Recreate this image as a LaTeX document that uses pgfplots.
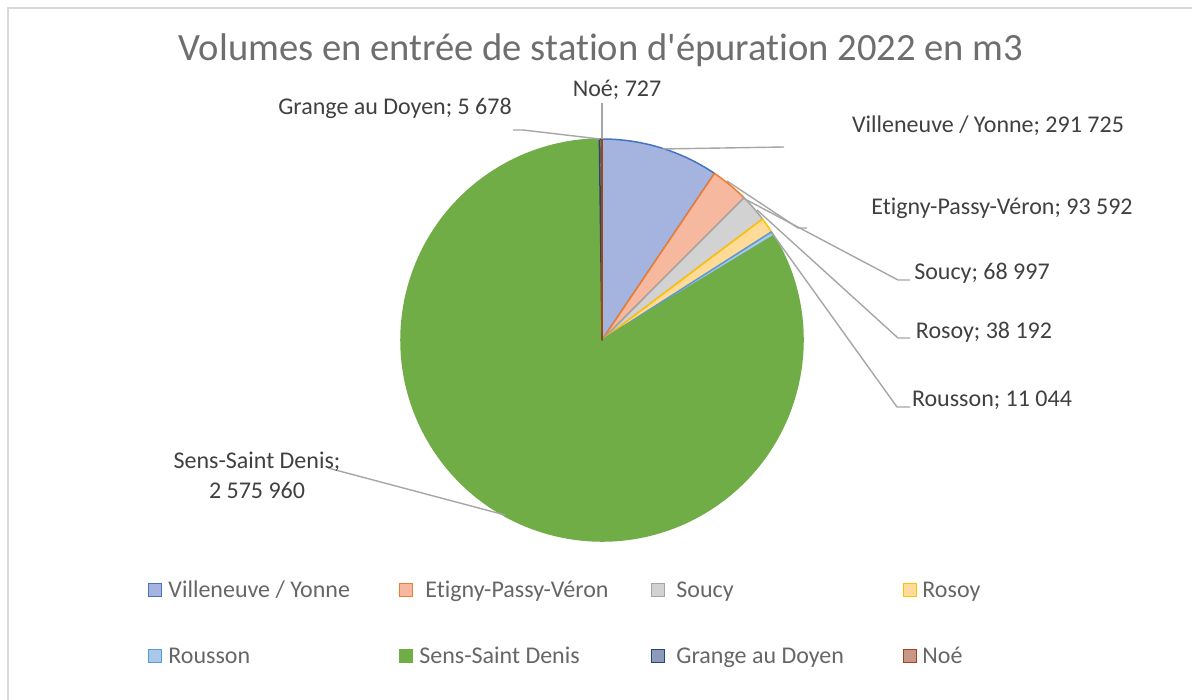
\documentclass[border=0pt]{standalone}
\usepackage{pgfplots}
\pgfplotsset{compat=1.18}
\usepackage{pgfplotstable}
\usepackage{fontspec}
\setmainfont{Carlito}[Ligatures=ResetAll, RawFeature={-liga;-clig;-dlig;-calt}]
\newcommand\tI{t\kern0pt i}

\definecolor{pfill0}{HTML}{A5B4DE}\definecolor{pline0}{HTML}{4472C4}
\definecolor{pfill1}{HTML}{F6B9A0}\definecolor{pline1}{HTML}{ED7D31}
\definecolor{pfill2}{HTML}{D2D2D2}\definecolor{pline2}{HTML}{A5A5A5}
\definecolor{pfill3}{HTML}{FFDB9A}\definecolor{pline3}{HTML}{FFC000}
\definecolor{pfill4}{HTML}{A8C7EA}\definecolor{pline4}{HTML}{5B9BD5}
\definecolor{pfill5}{HTML}{70AD47}\definecolor{pline5}{HTML}{70AD47}
\definecolor{pfill6}{HTML}{8E99BC}\definecolor{pline6}{HTML}{264478}
\definecolor{pfill7}{HTML}{C9968A}\definecolor{pline7}{HTML}{9E480E}
\definecolor{titlec}{HTML}{6E6E6E}
\definecolor{labc}{HTML}{404040}
\definecolor{legc}{HTML}{666666}
\definecolor{leadc}{HTML}{A6A6A6}
\definecolor{framec}{HTML}{D9D9D9}

\pgfplotstableread[col sep=comma]{
name,value
Villeneuve / Yonne,291725
Etigny-Passy-Véron,93592
Soucy,68997
Rosoy,38192
Rousson,11044
Sens-Saint Denis,2575960
Grange au Doyen,5678
Noé,727
}\piedata

% cumulative angles (clockwise from 12 o'clock)
\def\total{0}
\foreach \i in {0,...,7}{%
  \pgfplotstablegetelem{\i}{value}\of\piedata
  \xdef\total{\fpeval{\total+\pgfplotsretval}}%
}
\def\cum{0}
\foreach \i in {0,...,7}{%
  \pgfplotstablegetelem{\i}{value}\of\piedata
  \expandafter\xdef\csname sa\i\endcsname{\fpeval{90-\cum*360/\total}}%
  \xdef\cum{\fpeval{\cum+\pgfplotsretval}}%
  \expandafter\xdef\csname ea\i\endcsname{\fpeval{90-\cum*360/\total}}%
}

\begin{document}
\begin{tikzpicture}
\begin{axis}[
  scale only axis, width=596pt, height=350pt,
  xmin=0, xmax=1192, ymin=0, ymax=700, y dir=reverse,
  hide axis, clip=false]
% frame (top and left only, as in the crop)
\draw[framec, line width=0.8pt] (axis cs:8,700) -- (axis cs:8,8) -- (axis cs:1192,8);
% title
\node[titlec, font=\fontsize{19.3}{23}\selectfont] at (axis cs:601,50) {Volumes en entrée de sta\tI on d\textquotesingle épura\tI on 2022 en m3};
% slices
\pgfplotsinvokeforeach{0,...,7}{
  \filldraw[fill=pfill#1, draw=pline#1, line width=0.75pt, line join=round]
    (axis cs:602,340) -- ++(\csname sa#1\endcsname:100.5pt)
    arc[start angle=\csname sa#1\endcsname, end angle=\csname ea#1\endcsname, radius=100.5pt] -- cycle;
}
% leader lines
\begin{scope}[leadc, line width=0.7pt]
\draw (axis cs:602,139) -- (axis cs:602,103);
\draw (axis cs:600,139) -- (axis cs:523,130) -- (axis cs:513,130);
\draw (axis cs:662,149) -- (axis cs:784,147);
\draw (axis cs:727,181) -- (axis cs:798,228) -- (axis cs:807,228);
\draw (axis cs:743,198) -- (axis cs:898,280) -- (axis cs:910,280);
\draw (axis cs:757,210) -- (axis cs:898,338) -- (axis cs:910,338);
\draw (axis cs:772,233) -- (axis cs:897,407) -- (axis cs:910,407);
\draw (axis cs:505,515) -- (axis cs:328,468);
\end{scope}
% data labels
\begin{scope}[every node/.style={labc, font=\fontsize{12}{15}\selectfont, inner sep=0pt}]
\node at (axis cs:617,90) {Noé; 727};
\node at (axis cs:395,108) {Grange au Doyen; 5 678};
\node at (axis cs:988,126) {Villeneuve / Yonne; 291 725};
\node at (axis cs:1002,208) {E\tI gny-Passy-Véron; 93 592};
\node at (axis cs:982,273) {Soucy; 68 997};
\node at (axis cs:984,332) {Rosoy; 38 192};
\node at (axis cs:992,400) {Rousson; 11 044};
\node[align=center] at (axis cs:257,475) {Sens-Saint Denis;\\2 575 960};
\end{scope}
% legend
\pgfplotsinvokeforeach{0/155/168/590/Villeneuve / Yonne, 1/406/425/590/E\tI gny-Passy-Véron, 2/658/676/590/Soucy, 3/910/922/590/Rosoy,
                        4/155/168/656/Rousson, 5/406/419/656/Sens-Saint Denis, 6/658/676/656/Grange au Doyen, 7/910/922/656/Noé}{
  \pgfkeys{/legtmp/.code args={##1/##2/##3/##4/##5}{%
    \filldraw[fill=pfill##1, draw=pline##1, line width=0.7pt] (axis cs:##2-6.5,##4-6.5) rectangle (axis cs:##2+6.5,##4+6.5);
    \node[legc, font=\fontsize{12}{15}\selectfont, inner sep=0pt, anchor=base west] at (axis cs:##3,##4+7) {##5};}}
  \pgfkeys{/legtmp=#1}
}
\end{axis}
\pgfresetboundingbox
\useasboundingbox (current axis.south west) rectangle (current axis.north east);
\end{tikzpicture}
\end{document}
